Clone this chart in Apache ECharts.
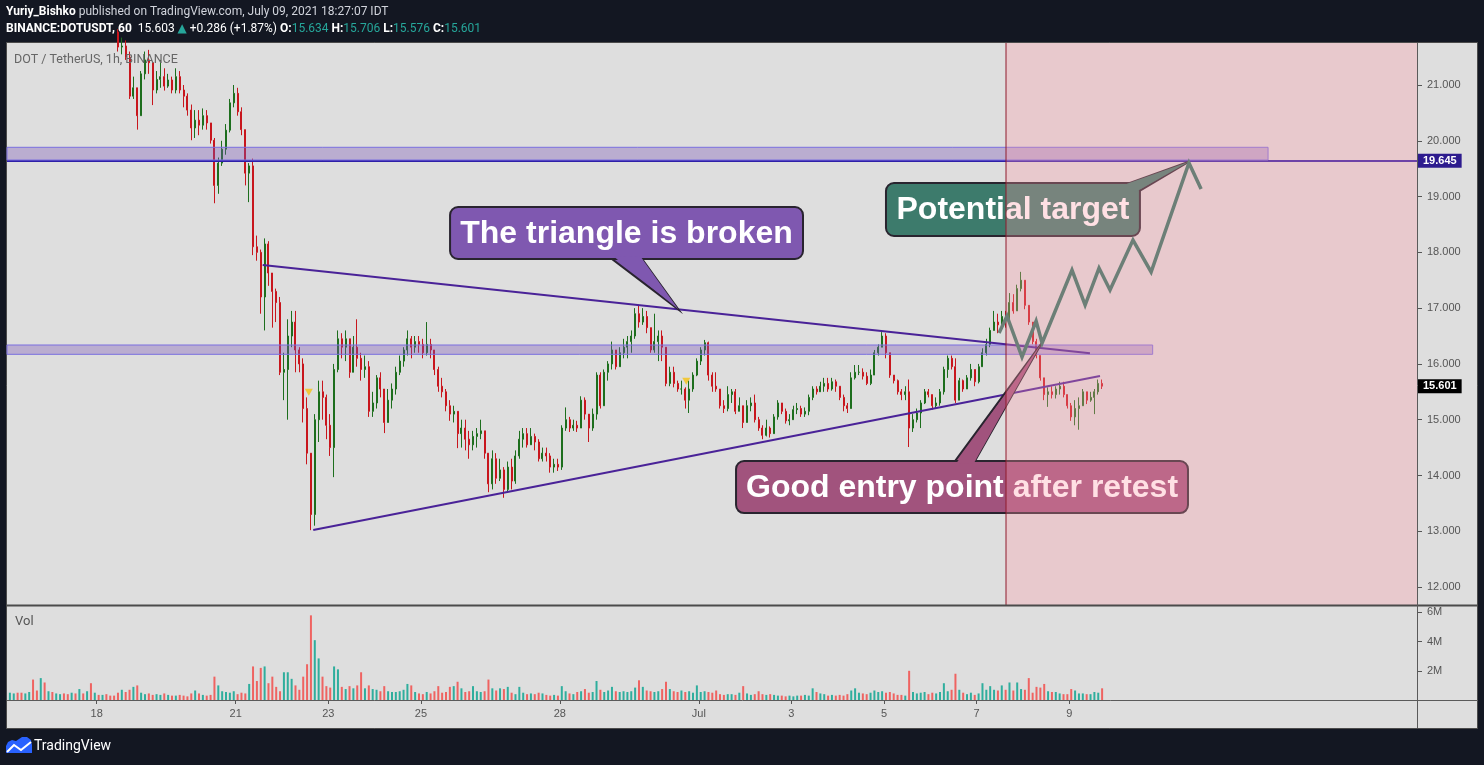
<!DOCTYPE html>
<html>
<head>
<meta charset="utf-8">
<title>DOT / TetherUS 1h</title>
<script src="https://cdn.jsdelivr.net/npm/echarts@6.0.0/dist/echarts.min.js"></script>
<style>
html,body{margin:0;padding:0;background:#131722;overflow:hidden;}
#chart{width:1484px;height:765px;}
</style>
</head>
<body>
<div id="chart"></div>
<script>
// ================= DATA =================
// 2-hour candles; time in hours relative to 18 Jun 2021 00:00
const firstSlotHour = -45;
const slotHours = 2;
const firstOpen = 23.0;
const closes = [
  23.1, 23.3, 23.0, 22.8, 23.2, 23.5, 23.0, 22.7, 22.9, 22.6,
  22.8, 22.5, 22.7, 22.9, 22.6, 22.4, 22.6, 22.3, 22.5, 22.2,
  22.4, 22.1, 22.3, 22.2, 22.4, 22.3, 22.1, 21.95, 21.68, 21.7,
  21.5, 20.8, 20.95, 20.45, 21.2, 21.45, 21.4, 20.91, 21.1, 21.15,
  20.98, 21.09, 20.91, 21.15, 20.91, 20.8, 20.55, 20.23, 20.37, 20.28,
  20.45, 20.32, 20.01, 19.2, 19.6, 19.85, 20.19, 20.68, 20.85, 20.52,
  20.2, 19.42, 19.55, 18.1, 18.0, 17.2, 18.15, 17.63, 17.3, 17.1,
  15.85, 15.9, 16.5, 16.75, 16.25, 16.0, 15.2, 14.4, 13.3, 15.0,
  15.5, 15.4, 14.9, 14.5, 15.9, 16.45, 16.3, 16.45, 15.85, 16.3,
  16.1, 15.9, 15.95, 15.15, 15.3, 15.75, 15.55, 14.95, 15.35, 15.55,
  15.85, 16.05, 16.25, 16.45, 16.3, 16.4, 16.35, 16.2, 16.35, 16.25,
  15.9, 15.6, 15.5, 15.25, 15.1, 15.15, 14.75, 14.85, 14.65, 14.55,
  14.7, 14.75, 14.8, 14.4, 13.85, 14.3, 13.95, 14.1, 13.75, 14.15,
  13.9, 14.35, 14.65, 14.75, 14.55, 14.7, 14.6, 14.3, 14.4, 14.35,
  14.15, 14.2, 14.15, 14.85, 15.0, 14.85, 14.9, 14.85, 15.35, 15.1,
  14.85, 15.1, 15.8, 15.25, 15.85, 16.0, 16.25, 15.95, 16.2, 16.3,
  16.4, 16.5, 16.9, 16.75, 16.85, 16.65, 16.25, 16.4, 16.5, 16.3,
  15.65, 15.85, 15.65, 15.55, 15.55, 15.35, 15.55, 15.8, 16.05, 16.25,
  16.38, 15.8, 15.6, 15.55, 15.25, 15.2, 15.45, 15.5, 15.15, 15.25,
  14.95, 15.25, 15.3, 15.0, 14.85, 14.72, 14.85, 14.75, 15.05, 15.3,
  15.15, 14.98, 15.0, 15.18, 15.2, 15.1, 15.15, 15.4, 15.55, 15.5,
  15.6, 15.65, 15.55, 15.68, 15.6, 15.4, 15.25, 15.2, 15.75, 15.85,
  15.85, 15.78, 15.65, 15.8, 16.2, 16.3, 16.5, 16.2, 15.8, 15.7,
  15.5, 15.45, 15.5, 14.85, 15.0, 15.12, 15.3, 15.5, 15.45, 15.25,
  15.3, 15.5, 15.9, 16.1, 15.95, 15.35, 15.7, 15.55, 15.75, 15.9,
  15.68, 15.95, 16.2, 16.35, 16.6, 16.75, 16.7, 16.85, 16.8, 17.1,
  16.95, 17.35, 17.5, 17.05, 16.75, 16.4, 16.15, 15.75, 15.45, 15.5,
  15.45, 15.55, 15.6, 15.45, 15.25, 15.05, 15.2, 15.25, 15.5, 15.35,
  15.4, 15.5, 15.65, 15.601
];
const highs = [
  23.4, 23.6, 23.3, 23.1, 23.5, 23.8, 23.5, 23.0, 23.2, 22.95,
  23.0, 22.9, 22.9, 23.1, 22.95, 22.7, 22.8, 22.65, 22.7, 22.55,
  22.6, 22.45, 22.5, 22.4, 22.6, 22.5, 22.4, 22.2, 22.0, 21.85,
  21.8, 21.6, 21.15, 20.65, 21.25, 21.6, 21.63, 21.4, 21.25, 21.45,
  21.3, 21.2, 21.15, 21.3, 21.25, 21.0, 20.85, 20.65, 20.55, 20.55,
  20.58, 20.55, 20.3, 20.05, 19.7, 20.0, 20.3, 20.75, 21.0, 20.95,
  20.6, 20.15, 19.6, 19.68, 18.3, 18.05, 18.25, 18.2, 17.55, 17.35,
  17.2, 16.2, 16.8, 16.95, 16.95, 16.3, 16.1, 15.4, 14.3, 15.1,
  15.7, 15.7, 15.45, 15.1, 16.0, 16.6, 16.55, 16.6, 16.45, 16.5,
  16.8, 16.2, 16.15, 16.05, 15.5, 15.8, 15.85, 15.55, 15.55, 15.65,
  15.95, 16.15, 16.3, 16.6, 16.5, 16.5, 16.5, 16.45, 16.75, 16.45,
  16.25, 15.95, 15.75, 15.55, 15.35, 15.25, 15.15, 15.0, 15.0, 14.8,
  14.8, 14.85, 15.0, 14.8, 14.3, 14.45, 14.4, 14.3, 14.15, 14.25,
  14.3, 14.45, 14.8, 14.85, 14.85, 14.85, 14.75, 14.65, 14.5, 14.5,
  14.4, 14.3, 14.3, 14.9, 15.22, 15.05, 15.0, 14.98, 15.42, 15.4,
  15.1, 15.2, 15.85, 15.85, 15.9, 16.05, 16.4, 16.25, 16.3, 16.45,
  16.5, 16.6, 17.0, 17.06, 17.0, 16.95, 16.65, 16.9, 16.6, 16.6,
  16.3, 15.95, 15.95, 15.7, 15.7, 15.58, 15.7, 15.85, 16.1, 16.3,
  16.43, 16.4, 15.85, 15.85, 15.55, 15.35, 15.6, 15.55, 15.55, 15.4,
  15.2, 15.35, 15.4, 15.45, 15.05, 14.9, 15.0, 14.88, 15.1, 15.35,
  15.3, 15.2, 15.1, 15.25, 15.3, 15.25, 15.22, 15.45, 15.6, 15.6,
  15.68, 15.75, 15.75, 15.75, 15.72, 15.6, 15.45, 15.3, 15.85, 15.98,
  15.98, 15.92, 15.85, 15.9, 16.25, 16.35, 16.57, 16.55, 16.2, 15.8,
  15.72, 15.55, 15.6, 15.72, 15.1, 15.2, 15.35, 15.55, 15.55, 15.45,
  15.4, 15.55, 15.95, 16.15, 16.15, 16.1, 15.75, 15.72, 15.8, 16.0,
  15.9, 16.0, 16.28, 16.45, 16.65, 16.95, 16.9, 16.95, 16.95, 17.27,
  17.25, 17.42, 17.65, 17.5, 17.05, 16.75, 16.45, 16.15, 15.75, 15.58,
  15.6, 15.6, 15.68, 15.68, 15.45, 15.3, 15.35, 15.4, 15.55, 15.5,
  15.5, 15.55, 15.72, 15.72
];
const lows = [
  22.9, 23.0, 22.8, 22.6, 22.7, 23.1, 22.9, 22.5, 22.6, 22.4,
  22.5, 22.3, 22.4, 22.6, 22.4, 22.2, 22.3, 22.1, 22.2, 22.0,
  22.1, 21.95, 22.0, 22.0, 22.1, 22.1, 21.95, 21.9, 21.6, 21.55,
  21.45, 20.75, 20.75, 20.2, 20.45, 21.1, 21.2, 20.64, 20.85, 20.95,
  20.9, 20.95, 20.85, 20.85, 20.85, 20.6, 20.45, 20.01, 20.05, 20.1,
  20.2, 20.2, 19.95, 18.88, 19.05, 19.55, 19.75, 20.15, 20.6, 20.45,
  20.1, 19.2, 18.9, 17.95, 17.85, 16.9, 16.6, 17.4, 16.65, 16.75,
  15.8, 15.35, 15.0, 16.3, 15.85, 15.85, 14.95, 14.2, 13.02, 13.1,
  14.6, 15.0, 14.65, 14.35, 13.97, 15.85, 16.1, 16.05, 15.75, 15.85,
  15.95, 15.7, 15.75, 15.05, 15.05, 15.2, 15.4, 14.76, 14.95, 15.2,
  15.45, 15.8, 15.95, 16.15, 16.1, 16.2, 16.2, 16.1, 16.15, 16.1,
  15.8, 15.5, 15.4, 15.15, 14.98, 14.95, 14.49, 14.5, 14.45, 14.3,
  14.45, 14.5, 14.65, 14.3, 13.7, 13.75, 13.85, 13.9, 13.6, 13.7,
  13.75, 13.85, 14.3, 14.5, 14.5, 14.55, 14.45, 14.25, 14.25, 14.25,
  14.05, 14.05, 14.08, 14.1, 14.8, 14.78, 14.8, 14.78, 14.85, 15.0,
  14.6, 14.8, 15.0, 15.2, 15.25, 15.7, 15.9, 15.9, 15.98, 16.1,
  16.1, 16.2, 16.45, 16.65, 16.7, 16.55, 16.2, 16.2, 16.05, 16.05,
  15.6, 15.6, 15.58, 15.5, 15.45, 15.2, 15.12, 15.5, 15.78, 15.98,
  16.15, 15.7, 15.5, 15.5, 15.2, 15.12, 15.15, 15.3, 15.1, 15.15,
  14.85, 14.95, 15.15, 14.95, 14.8, 14.65, 14.7, 14.68, 14.75, 15.0,
  15.1, 14.93, 14.9, 15.0, 15.1, 15.05, 15.05, 15.08, 15.35, 15.45,
  15.5, 15.5, 15.5, 15.52, 15.5, 15.35, 15.15, 15.12, 15.2, 15.72,
  15.8, 15.72, 15.62, 15.62, 15.85, 16.15, 16.3, 16.1, 15.75, 15.65,
  15.45, 15.35, 15.35, 14.51, 14.78, 14.95, 14.85, 15.28, 15.4, 15.18,
  15.2, 15.25, 15.45, 15.75, 15.9, 15.3, 15.4, 15.5, 15.55, 15.7,
  15.6, 15.65, 15.95, 16.15, 16.3, 16.6, 16.55, 16.65, 16.65, 16.7,
  16.9, 16.95, 17.3, 16.98, 16.7, 16.35, 16.1, 15.7, 15.35, 15.23,
  15.38, 15.38, 15.45, 15.4, 15.2, 14.98, 14.9, 14.82, 15.3, 15.28,
  15.32, 15.1, 15.45, 15.55
];
// volume per slot, millions
const volumesM = [
  0.5, 0.45, 0.5, 0.5, 0.45, 0.55, 1.4, 0.65, 1.5, 1.2,
  0.6, 0.55, 0.45, 0.4, 0.45, 0.4, 0.5, 0.45, 0.75, 0.45,
  0.6, 1.15, 0.5, 0.35, 0.35, 0.4, 0.3, 0.3, 0.5, 0.7,
  0.55, 0.7, 0.9, 1.0, 0.5, 0.4, 0.45, 0.35, 0.4, 0.35,
  0.45, 0.35, 0.3, 0.3, 0.35, 0.3, 0.25, 0.45, 0.65, 0.45,
  0.35, 0.3, 0.35, 1.6, 1.0, 0.6, 0.55, 0.5, 0.6, 0.4,
  0.5, 0.45, 1.1, 2.3, 1.3, 2.2, 2.3, 1.15, 1.6, 0.9,
  0.6, 1.9, 1.9, 1.45, 1.0, 0.7, 1.6, 2.45, 5.8, 4.1,
  2.85, 1.6, 0.95, 0.85, 2.3, 2.1, 0.9, 0.75, 0.95, 0.8,
  1.0, 1.9, 0.8, 1.0, 0.75, 0.7, 0.6, 0.95, 0.6, 0.55,
  0.55, 0.6, 0.7, 1.1, 1.0, 0.55, 0.45, 0.4, 0.55, 0.45,
  0.6, 0.95, 0.5, 0.55, 0.9, 0.95, 1.25, 0.8, 0.55, 0.6,
  0.95, 0.6, 0.55, 0.6, 1.4, 0.8, 0.65, 0.8, 0.75, 0.9,
  0.5, 0.4, 0.9, 0.5, 0.4, 0.45, 0.4, 0.5, 0.45, 0.35,
  0.3, 0.35, 0.3, 0.95, 0.6, 0.45, 0.4, 0.55, 0.6, 0.75,
  0.5, 0.55, 1.3, 0.7, 0.55, 0.65, 0.9, 0.6, 0.55, 0.6,
  0.55, 0.6, 0.85, 1.35, 0.9, 0.65, 0.6, 0.55, 0.6, 0.75,
  1.25, 0.75, 0.6, 0.55, 0.65, 0.55, 0.6, 0.5, 1.0, 0.55,
  0.6, 0.55, 0.5, 0.65, 0.4, 0.35, 0.4, 0.4, 0.35, 0.5,
  0.95, 0.45, 0.35, 0.4, 0.6, 0.4, 0.35, 0.4, 0.35, 0.3,
  0.3, 0.25, 0.3, 0.25, 0.3, 0.3, 0.35, 0.3, 0.8, 0.55,
  0.45, 0.4, 0.3, 0.35, 0.3, 0.35, 0.3, 0.4, 0.65, 0.8,
  0.5, 0.45, 0.4, 0.5, 0.65, 0.55, 0.6, 0.5, 0.55, 0.45,
  0.35, 0.35, 0.3, 2.0, 0.55, 0.45, 0.5, 0.55, 0.4, 0.5,
  0.45, 0.55, 1.15, 0.6, 0.7, 1.8, 0.7, 0.5, 0.4, 0.5,
  0.35, 0.45, 1.15, 0.7, 0.95, 0.7, 0.65, 1.0, 0.7, 1.2,
  0.65, 1.2, 0.75, 0.7, 1.5, 0.5, 0.9, 0.85, 1.1, 0.6,
  0.55, 0.55, 0.45, 0.4, 0.4, 0.75, 0.65, 0.45, 0.45, 0.4,
  0.4, 0.55, 0.5, 0.8
];

const timeTickHours = [0, 72, 120, 168, 240, 312, 360, 408, 456, 504];
const timeTickLabels = ['18', '21', '23', '25', '28', 'Jul', '3', '5', '7', '9'];
const priceTicks = [12, 13, 14, 15, 16, 17, 18, 19, 20, 21];
const volumeTicks = [2, 4, 6];
const timeRange = [-46.5, 684.7];
const priceRange = [11.678, 21.753];
const volumeRange = [0, 6.44];

const lastPrice = 15.601;
const targetPrice = 19.645;
// [fromHour, toHour, lowPrice, highPrice]
const zones = [[-60, 607.0, 19.655, 19.883], [-60, 547.2, 16.172, 16.339]];
const triangleUpper = [[86.0, 17.773], [514.7, 16.19]];
const triangleLower = [[112.2, 13.022], [519.9, 15.783]];
const forecastStartHour = 471.2;
const projection = [
  [467.6, 16.554], [471.7, 16.859], [479.5, 16.124], [486.8, 16.769], [489.9, 16.375],
  [505.4, 17.683], [512.2, 17.056], [519.4, 17.719], [525.1, 17.325], [537.0, 18.221],
  [546.4, 17.648], [566.0, 19.602], [572.3, 19.136]
];
const flagMarkers = [[109.9, 15.491], [305.5, 15.688]];
const calloutTexts = ['The triangle is broken', 'Potential target', 'Good entry point after retest'];
// [leftHour, rightHour, topPrice, bottomPrice]
const calloutBoxes = [[183.1, 366.0, 18.813, 17.881], [409.0, 540.6, 19.243, 18.293], [331.3, 565.5, 14.259, 13.327]];
// pointer: two base points on the box edge, then the tip
const calloutPointers = [
  [[267.0, 17.881], [282.6, 17.881], [301.4, 16.979]],
  [[535.4, 19.243], [539.7, 19.087], [566.0, 19.624]],
  [[444.8, 14.259], [455.1, 14.259], [489.6, 16.369]]
];

// ================= STYLE / BUILD =================
const UP = '#1d6e1d', DOWN = '#c8161d';
const VOL_UP = '#2fae9d', VOL_DOWN = '#ef6361';
const CALLOUT_FILLS = ['#7f58b0', '#3d7b6c', '#a1537d'];
const FONT = '"Liberation Sans", Arial, sans-serif';
const UIFONT = 'Roboto, "DejaVu Sans", sans-serif';

const hours = closes.map((_, i) => firstSlotHour + slotHours * i);
const opens = closes.map((c, i) => i === 0 ? firstOpen : closes[i - 1]);
const candleData = closes.map((c, i) => [hours[i], opens[i], c,
  Math.min(lows[i], opens[i], c), Math.max(highs[i], opens[i], c)]);
const volumeData = volumesM.map((v, i) => ({
  value: [hours[i], v],
  itemStyle: { color: closes[i] >= opens[i] ? VOL_UP : VOL_DOWN }
}));

function clipToGrid(rect, cs) {
  return echarts.graphic.clipRectByRect(rect, { x: cs.x, y: cs.y, width: cs.width, height: cs.height });
}

function renderZone(params, api) {
  const a = api.coord([api.value(0), api.value(3)]);
  const b = api.coord([api.value(1), api.value(2)]);
  const shape = clipToGrid({ x: a[0], y: a[1], width: b[0] - a[0], height: b[1] - a[1] }, params.coordSys);
  if (!shape) return null;
  return { type: 'rect', shape: shape, style: { fill: 'rgba(119,82,182,0.35)', stroke: '#7a6fe0', lineWidth: 1 } };
}

function renderCallout(params, api) {
  const i = params.dataIndex;
  const box = calloutBoxes[i];
  const tl = api.coord([box[0], box[2]]);
  const br = api.coord([box[1], box[3]]);
  const pts = calloutPointers[i].map(p => api.coord(p));
  const cx = (tl[0] + br[0]) / 2, cy = (tl[1] + br[1]) / 2;
  const inward = p => {
    const dx = cx - p[0], dy = cy - p[1];
    const d = Math.sqrt(dx * dx + dy * dy) || 1;
    return [p[0] + dx / d * 3, p[1] + dy / d * 3];
  };
  const fill = CALLOUT_FILLS[i];
  const border = '#29242f';
  return {
    type: 'group',
    children: [
      { type: 'polygon', shape: { points: pts }, style: { fill: fill, stroke: border, lineWidth: 2 } },
      { type: 'rect', shape: { x: tl[0], y: tl[1], width: br[0] - tl[0], height: br[1] - tl[1], r: 8 },
        style: { fill: fill, stroke: border, lineWidth: 2 } },
      { type: 'polygon', shape: { points: [inward(pts[0]), inward(pts[1]), pts[2]] }, style: { fill: fill } },
      { type: 'text', style: { x: cx, y: cy + 1, text: calloutTexts[i], fill: '#ffffff',
        font: 'bold 32px ' + FONT, align: 'center', verticalAlign: 'middle' } }
    ]
  };
}

function renderForecast(params, api) {
  const cs = params.coordSys;
  const a = api.coord([api.value(0), api.value(2)]);
  const b = api.coord([api.value(1), api.value(3)]);
  const x0 = a[0], x1 = Math.min(b[0], cs.x + cs.width);
  return {
    type: 'group',
    children: [
      { type: 'rect', shape: { x: x0, y: b[1], width: x1 - x0, height: a[1] - b[1] },
        style: { fill: 'rgba(255,152,165,0.3)' } },
      { type: 'line', shape: { x1: x0, y1: b[1], x2: x0, y2: a[1] }, style: { stroke: '#8e1b2d', lineWidth: 1 } }
    ]
  };
}

const chart = echarts.init(document.getElementById('chart'), null, { renderer: 'canvas' });

const option = {
  animation: false,
  backgroundColor: '#131722',
  textStyle: { fontFamily: FONT },
  grid: [
    { left: 7, right: 66, top: 43, height: 562, outerBoundsMode: 'none', containLabel: false },
    { left: 7, right: 66, top: 606, height: 94, outerBoundsMode: 'none', containLabel: false }
  ],
  xAxis: [
    { type: 'value', gridIndex: 0, min: timeRange[0], max: timeRange[1], show: false },
    { type: 'value', gridIndex: 1, min: timeRange[0], max: timeRange[1],
      axisLine: { show: false, onZero: false }, splitLine: { show: false },
      axisTick: { show: true, customValues: timeTickHours, length: 4, lineStyle: { color: '#555', width: 1 } },
      axisLabel: { customValues: timeTickHours, color: '#555', fontSize: 11, margin: 8, fontFamily: FONT,
        formatter: v => timeTickLabels[timeTickHours.indexOf(v)] || '' } }
  ],
  yAxis: [
    { type: 'value', gridIndex: 0, position: 'right', min: priceRange[0], max: priceRange[1],
      axisLine: { show: false, onZero: false }, splitLine: { show: false },
      axisTick: { show: true, customValues: priceTicks, length: 4, lineStyle: { color: '#555' } },
      axisLabel: { customValues: priceTicks, color: '#555', fontSize: 11, margin: 9, fontFamily: FONT,
        formatter: v => Number(v).toFixed(3) } },
    { type: 'value', gridIndex: 1, position: 'right', min: volumeRange[0], max: volumeRange[1],
      axisLine: { show: false, onZero: false }, splitLine: { show: false },
      axisTick: { show: true, customValues: volumeTicks, length: 4, lineStyle: { color: '#555' } },
      axisLabel: { customValues: volumeTicks, color: '#555', fontSize: 11, margin: 9, fontFamily: FONT,
        formatter: v => v + 'M' } }
  ],
  series: [
    {
      name: 'DOTUSDT', type: 'candlestick', xAxisIndex: 0, yAxisIndex: 0, z: 2,
      data: candleData, encode: { x: 0, y: [1, 2, 3, 4] }, barWidth: 1.5, clip: true,
      itemStyle: { color: UP, color0: DOWN, borderColor: UP, borderColor0: DOWN, borderWidth: 1 },
      markLine: {
        z: 3, silent: true, symbol: 'none', animation: false,
        data: [
          { yAxis: targetPrice, lineStyle: { color: '#2e1fa8', width: 2, type: 'solid' },
            label: { show: true, position: 'end', distance: 0, formatter: '19.645', color: '#fff',
              fontWeight: 'bold', fontSize: 11, fontFamily: FONT, backgroundColor: '#2d1b8e', padding: [2, 5, 1, 5] } },
          { yAxis: lastPrice, lineStyle: { color: 'rgba(0,0,0,0)', width: 0 },
            label: { show: true, position: 'end', distance: 0, formatter: '15.601', color: '#fff',
              fontWeight: 'bold', fontSize: 11, fontFamily: FONT, backgroundColor: '#000000', padding: [2, 5, 1, 5] } }
        ]
      }
    },
    {
      name: 'Vol', type: 'bar', xAxisIndex: 1, yAxisIndex: 1, data: volumeData, barWidth: 2
    },
    {
      name: 'zones', type: 'custom', xAxisIndex: 0, yAxisIndex: 0, z: 3,
      data: zones, encode: { x: [0, 1], y: [2, 3] }, renderItem: renderZone, silent: true
    },
    {
      name: 'triangleUpper', type: 'line', xAxisIndex: 0, yAxisIndex: 0, z: 4, data: triangleUpper,
      symbol: 'none', lineStyle: { color: '#4a2398', width: 2 }, silent: true
    },
    {
      name: 'triangleLower', type: 'line', xAxisIndex: 0, yAxisIndex: 0, z: 4, data: triangleLower,
      symbol: 'none', lineStyle: { color: '#4a2398', width: 2 }, silent: true
    },
    {
      name: 'flags', type: 'scatter', xAxisIndex: 0, yAxisIndex: 0, z: 4, data: flagMarkers,
      symbol: 'triangle', symbolRotate: 180, symbolSize: [8, 7], itemStyle: { color: '#f5c211' }, silent: true
    },
    {
      name: 'callouts', type: 'custom', xAxisIndex: 0, yAxisIndex: 0, z: 5,
      data: calloutBoxes, encode: { x: [0, 1], y: [2, 3] }, renderItem: renderCallout, silent: true
    },
    {
      name: 'forecast', type: 'custom', xAxisIndex: 0, yAxisIndex: 0, z: 6,
      data: [[forecastStartHour, timeRange[1], priceRange[0], priceRange[1]]],
      encode: { x: [0, 1], y: [2, 3] }, renderItem: renderForecast, silent: true
    },
    {
      name: 'projection', type: 'line', xAxisIndex: 0, yAxisIndex: 0, z: 7, data: projection,
      symbol: 'none', lineStyle: { color: '#6c7f77', width: 3.5, join: 'miter', cap: 'butt' }, silent: true
    }
  ],
  graphic: {
    elements: [
      { type: 'rect', z: -10, shape: { x: 6.5, y: 42.5, width: 1471, height: 686 },
        style: { fill: '#dedede', stroke: '#4b4b4b', lineWidth: 1 } },
      { type: 'line', z: 50, shape: { x1: 7, y1: 605.5, x2: 1478, y2: 605.5 }, style: { stroke: '#4b4b4b', lineWidth: 2 } },
      { type: 'line', z: 50, shape: { x1: 7, y1: 700.5, x2: 1478, y2: 700.5 }, style: { stroke: '#5a5a5a', lineWidth: 1 } },
      { type: 'line', z: 50, shape: { x1: 1417.5, y1: 43, x2: 1417.5, y2: 728 }, style: { stroke: '#5a5a5a', lineWidth: 1 } },
      { type: 'text', z: 50, x: 6, y: 12, style: {
          text: '{b|Yuriy_Bishko} published on TradingView.com, July 09, 2021 18:27:07 IDT',
          fill: '#d1d4dc', fontSize: 12, fontFamily: UIFONT, verticalAlign: 'middle',
          rich: { b: { fill: '#ffffff', fontWeight: 'bold', fontSize: 12, fontFamily: UIFONT } } } },
      { type: 'text', z: 50, x: 6, y: 29, style: {
          text: '{b|BINANCE:DOTUSDT, 60}  15.603 {t|▲} +0.286 (+1.87%) {b|O:}{t|15.634} {b|H:}{t|15.706} {b|L:}{t|15.576} {b|C:}{t|15.601}',
          fill: '#ffffff', fontSize: 12, fontFamily: UIFONT, verticalAlign: 'middle',
          rich: {
            b: { fill: '#ffffff', fontWeight: 'bold', fontSize: 12, fontFamily: UIFONT },
            t: { fill: '#26a69a', fontSize: 12, fontFamily: UIFONT }
          } } },
      { type: 'text', z: 50, x: 14, y: 60, style: { text: 'DOT / TetherUS, 1h, BINANCE', fill: '#666666',
          fontSize: 12.5, fontFamily: UIFONT, verticalAlign: 'middle' } },
      { type: 'text', z: 50, x: 15, y: 622, style: { text: 'Vol', fill: '#555555',
          fontSize: 13, fontFamily: UIFONT, verticalAlign: 'middle' } },
      { type: 'polygon', z: 50, shape: { points: [[6, 753], [6, 746], [8, 742], [12, 740], [16, 741], [19, 739],
          [22, 737], [27, 737], [31, 740], [32, 745], [32, 753]] }, style: { fill: '#2962ff' } },
      { type: 'polyline', z: 51, shape: { points: [[7, 752], [14, 745], [21, 750], [31, 742]] },
        style: { stroke: '#ffffff', lineWidth: 2, fill: null } },
      { type: 'text', z: 50, x: 34, y: 746, style: { text: 'TradingView', fill: '#ffffff',
          fontSize: 14, fontFamily: UIFONT, verticalAlign: 'middle' } }
    ]
  }
};

chart.setOption(option);
</script>
</body>
</html>
